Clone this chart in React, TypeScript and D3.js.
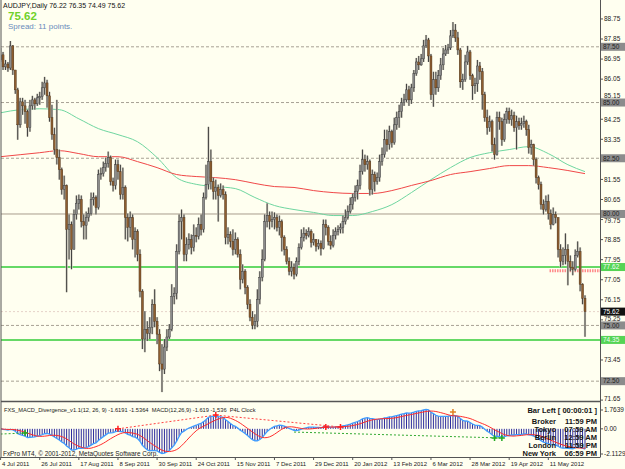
import React from 'react';
import * as d3 from 'd3';

const W = 625;
const H = 469;
const FONT = '"Liberation Sans", Arial, sans-serif';

// AUDJPY daily, 4 Jul 2011 .. 1 Jun 2012 (open of each bar = previous close)
const firstOpen = 86.91;
const closes = [
  87.14, 86.6, 86.73, 86.55, 87.54, 86.46, 85.57, 84.0, 85.03, 84.85,
  84.59, 83.87, 84.85, 85.12, 84.94, 85.21, 85.26, 85.66, 85.88, 85.3,
  84.32, 83.56, 82.89, 82.53, 81.99, 81.1, 81.28, 79.31, 79.53, 78.41,
  79.98, 80.48, 80.65, 79.66, 79.49, 79.84, 80.02, 80.65, 80.74, 80.29,
  81.77, 81.81, 82.08, 82.26, 82.53, 81.45, 81.28, 82.21, 81.9, 80.87,
  81.19, 79.84, 79.4, 79.84, 78.86, 79.22, 78.19, 76.53, 74.39, 74.83,
  74.65, 74.92, 75.95, 75.19, 74.61, 73.27, 73.04, 74.03, 74.48, 74.83,
  76.31, 76.44, 78.32, 79.66, 79.84, 78.19, 78.64, 78.86, 78.5, 79.04,
  79.0, 79.53, 79.31, 80.74, 81.32, 82.35, 81.45, 81.01, 81.19, 80.83,
  81.1, 80.87, 78.95, 79.08, 78.77, 78.41, 78.86, 78.19, 77.07, 77.43,
  76.71, 75.95, 75.37, 75.01, 75.19, 76.17, 77.16, 77.96, 79.66, 79.93,
  79.66, 79.75, 79.84, 79.4, 79.66, 78.95, 78.41, 77.88, 77.43, 77.61,
  77.3, 77.88, 78.5, 78.95, 79.13, 79.04, 79.22, 78.73, 78.86, 78.55,
  78.68, 78.46, 79.53, 79.4, 78.77, 78.59, 79.04, 79.22, 79.31, 79.4,
  79.66, 79.84, 80.11, 80.42, 80.74, 81.01, 81.28, 81.9, 82.44, 82.21,
  82.35, 81.1, 81.77, 81.45, 81.63, 82.35, 82.66, 83.33, 83.11, 83.69,
  83.2, 84.0, 84.32, 84.59, 84.99, 85.12, 85.57, 85.12, 85.66, 86.29,
  86.82, 86.69, 86.96, 87.54, 87.81, 87.09, 85.35, 86.02, 85.66, 86.2,
  86.69, 87.18, 87.36, 87.45, 87.99, 88.25, 87.9, 87.36, 85.93, 86.02,
  86.82, 87.27, 86.2, 85.75, 85.84, 86.64, 86.38, 85.35, 84.32, 83.87,
  84.14, 83.11, 82.66, 84.32, 84.14, 83.33, 84.23, 84.59, 84.23, 84.41,
  83.87, 84.14, 83.96, 84.05, 84.14, 83.78, 82.98, 83.11, 82.44, 81.63,
  81.32, 80.43, 80.2, 80.56, 80.02, 79.53, 79.98, 79.84, 78.41, 77.88,
  78.14, 78.41, 77.88, 77.61, 77.52, 78.14, 78.32, 76.85, 76.22, 75.62,
];
const highs = [
  87.45, 87.27, 86.91, 86.82, 87.76, 87.58, 86.46, 85.66, 85.21, 85.21,
  85.12, 84.68, 85.12, 85.3, 85.21, 85.39, 85.48, 85.93, 86.15, 86.02,
  85.48, 84.9, 83.87, 85.12, 82.89, 82.08, 81.72, 81.32, 79.98, 79.66,
  80.2, 80.83, 80.87, 80.83, 79.98, 80.11, 80.29, 80.96, 80.96, 80.83,
  81.99, 82.08, 82.35, 82.53, 82.8, 82.62, 81.63, 82.44, 82.44, 82.21,
  82.08, 81.28, 80.02, 80.11, 79.98, 79.4, 79.31, 78.41, 76.62, 75.64,
  75.19, 75.37, 76.17, 76.62, 75.37, 74.83, 74.16, 74.39, 74.83, 75.06,
  76.85, 76.71, 78.64, 79.98, 80.2, 79.98, 78.95, 79.13, 79.08, 79.53,
  79.4, 79.84, 79.98, 80.96, 82.21, 83.91, 82.89, 81.63, 81.54, 81.32,
  81.37, 81.28, 81.01, 79.4, 79.22, 79.31, 79.17, 78.95, 78.41, 77.74,
  77.52, 76.8, 76.17, 75.64, 75.5, 76.62, 77.43, 78.41, 79.98, 80.48,
  80.11, 80.11, 80.07, 79.98, 79.93, 79.75, 79.04, 78.55, 78.05, 77.88,
  77.78, 78.05, 78.68, 79.31, 79.4, 79.31, 79.4, 79.31, 79.13, 78.86,
  78.86, 78.81, 79.75, 79.75, 79.49, 79.04, 79.31, 79.4, 79.49, 79.58,
  79.93, 80.2, 80.38, 80.74, 80.92, 81.28, 81.54, 82.21, 82.89, 82.66,
  82.62, 82.44, 81.99, 81.9, 81.86, 82.66, 82.98, 83.78, 83.78, 83.96,
  83.78, 84.32, 84.59, 84.9, 85.21, 85.39, 85.84, 85.75, 85.84, 86.46,
  87.0, 87.09, 87.18, 87.81, 88.03, 87.9, 87.18, 86.38, 86.38, 86.46,
  87.0, 87.45, 87.58, 87.63, 88.25, 88.61, 88.52, 88.17, 87.45, 86.29,
  87.14, 87.54, 87.36, 86.29, 86.11, 86.91, 86.82, 86.55, 85.48, 84.68,
  84.41, 84.23, 83.42, 84.59, 84.59, 84.32, 84.5, 84.77, 84.77, 84.68,
  84.59, 84.41, 84.32, 84.32, 84.41, 84.23, 84.0, 83.33, 83.15, 82.53,
  81.72, 81.45, 80.65, 80.83, 80.87, 80.2, 80.29, 80.11, 79.84, 78.64,
  78.5, 79.13, 78.64, 78.14, 77.88, 78.41, 78.77, 78.5, 76.89, 76.35,
];
const lows = [
  86.82, 86.46, 86.46, 86.38, 86.46, 86.24, 85.39, 83.33, 83.87, 84.45,
  84.05, 83.47, 83.69, 84.68, 84.68, 84.85, 84.9, 85.12, 85.35, 84.77,
  84.14, 83.33, 82.66, 82.22, 81.54, 80.87, 80.65, 76.49, 77.96, 77.52,
  78.41, 79.75, 80.2, 79.4, 78.86, 78.86, 79.66, 79.93, 80.38, 79.98,
  80.2, 81.54, 81.68, 81.9, 82.08, 81.28, 81.01, 81.1, 81.54, 80.65,
  80.65, 78.86, 78.77, 78.95, 78.41, 78.05, 77.88, 76.26, 73.94, 73.8,
  74.3, 74.39, 74.61, 74.92, 74.16, 72.95, 72.01, 72.82, 73.85, 74.39,
  74.74, 75.95, 76.17, 78.19, 78.86, 77.88, 77.88, 78.41, 78.19, 78.32,
  78.73, 78.86, 79.04, 79.17, 80.65, 81.1, 81.1, 80.65, 80.65, 79.66,
  80.74, 80.65, 78.64, 78.64, 78.5, 78.14, 78.19, 78.05, 76.62, 76.89,
  76.4, 75.73, 75.19, 74.83, 74.83, 74.92, 75.95, 76.98, 77.88, 79.4,
  79.31, 79.4, 79.31, 79.22, 79.04, 78.32, 78.14, 77.74, 77.25, 77.2,
  77.07, 77.2, 77.7, 78.41, 78.77, 78.86, 78.95, 78.5, 78.59, 78.32,
  78.41, 78.14, 78.41, 79.04, 78.59, 78.41, 78.5, 78.86, 79.04, 79.13,
  79.13, 79.53, 79.75, 80.02, 80.2, 80.56, 80.65, 81.1, 81.77, 81.9,
  81.99, 80.83, 80.87, 81.01, 81.32, 81.45, 82.17, 82.53, 82.8, 82.89,
  82.98, 83.11, 83.78, 83.87, 84.32, 84.85, 85.03, 84.85, 84.94, 85.48,
  86.2, 86.46, 86.65, 86.82, 87.45, 86.82, 85.12, 84.81, 85.35, 85.48,
  86.02, 86.46, 87.09, 87.18, 87.36, 87.9, 87.72, 87.14, 85.66, 85.57,
  85.93, 86.69, 86.02, 85.12, 85.39, 85.48, 86.02, 84.68, 84.14, 83.56,
  83.69, 82.8, 82.44, 82.62, 83.78, 83.06, 83.24, 84.05, 84.05, 83.96,
  83.69, 82.89, 83.78, 83.78, 83.87, 83.51, 82.71, 82.66, 82.17, 81.37,
  81.1, 80.2, 79.98, 80.11, 79.75, 79.31, 79.49, 79.58, 78.05, 77.61,
  77.7, 77.74, 76.8, 77.43, 77.25, 77.43, 78.05, 76.53, 75.95, 74.49,
];

const dateBars = [0, 16, 32, 48, 64, 80, 96, 112, 128, 144, 160, 176, 192, 208, 224];
const dateLabels = [
  '4 Jul 2011', '26 Jul 2011', '17 Aug 2011', '8 Sep 2011', '30 Sep 2011',
  '24 Oct 2011', '15 Nov 2011', '7 Dec 2011', '29 Dec 2011', '20 Jan 2012',
  '13 Feb 2012', '6 Mar 2012', '28 Mar 2012', '19 Apr 2012', '11 May 2012',
];

const priceTicks = [
  88.75, 87.85, 86.95, 86.05, 85.15, 84.25, 83.35, 82.45, 81.55, 80.65,
  79.75, 78.85, 77.95, 77.05, 76.15, 75.25, 74.35, 73.45, 72.55, 71.65,
];

// moving averages every 8 bars
const maBars = [
  0, 8, 16, 24, 32, 40, 48, 56, 64, 72, 80, 88, 96, 104, 112, 120,
  128, 136, 144, 152, 160, 168, 176, 184, 192, 200, 208, 216, 224, 232, 239,
];
const maGreen = [
  84.54, 84.68, 84.72, 84.68, 84.27, 83.83, 83.56, 83.24, 82.53, 81.63,
  81.33, 81.23, 81.14, 80.74, 80.38, 80.2, 80.07, 79.93, 79.93, 80.11,
  80.42, 80.96, 81.54, 82.08, 82.53, 82.75, 82.89, 83.02, 82.71, 82.21, 81.9,
];
const maRed = [
  82.57, 82.66, 82.75, 82.84, 82.71, 82.57, 82.57, 82.35, 82.08, 81.77,
  81.68, 81.63, 81.54, 81.37, 81.23, 81.19, 81.05, 80.96, 80.92, 80.92,
  81.05, 81.28, 81.5, 81.77, 81.9, 82.04, 82.17, 82.17, 82.08, 81.95, 81.81,
];

const dottedLevels = [87.5, 85.0, 82.5, 75.0, 72.5];
const roundLevel = 80.0;
const greenLevels = [77.62, 74.35];
const bidPrice = 75.62;
const redZone = { price: 77.45, fromBar: 224.5 };

const macdTicks = [1.7639, 0, -2.1129];
const plusMarks = [
  { bar: 10, v: -0.34, c: '#22aa22' },
  { bar: 48, v: 0.0, c: '#ff2020' },
  { bar: 88, v: 1.11, c: '#ff2020' },
  { bar: 133, v: 0.15, c: '#ff2020' },
  { bar: 139, v: 0.15, c: '#ff2020' },
  { bar: 185, v: 1.36, c: '#e08020' },
  { bar: 202, v: -0.74, c: '#22aa22' },
  { bar: 205, v: -0.74, c: '#22aa22' },
];
const divLines = [
  { from: [0, -0.42], to: [10, -0.34], c: '#33aa33' },
  { from: [48, 0.0], to: [88, 1.11], c: '#ff4040' },
  { from: [88, 1.11], to: [139, 0.15], c: '#ff4040' },
  { from: [120, -0.26], to: [205, -0.74], c: '#33aa33' },
];

const clockNames = ['Broker', 'Tokyo', 'Berlin', 'London', 'New York'];
const clockTimes = ['11:59 PM', '07:59 AM', '12:59 AM', '11:59 PM', '06:59 PM'];

// MACD(12,26,9) as the indicator computes it from the closes
function ema(values: number[], n: number) {
  const k = 2 / (n + 1);
  let e = values[0];
  return values.map((v) => (e = e + k * (v - e)));
}
const e12 = ema(closes, 12);
const e26 = ema(closes, 26);
const macdMain = closes.map((_, i) => e12[i] - e26[i]);
const macdSignal = macdMain.map((_, i) => d3.mean(macdMain.slice(Math.max(0, i - 8), i + 1)) as number);

const RIGHT = 600.5;
const MAIN_BOTTOM = 401;
const MACD_TOP = 402;
const MACD_BOTTOM = 457;

export default function App() {
  const x = d3.scaleLinear().domain([0, closes.length - 1]).range([0.6, 585]);
  const y = d3.scaleLinear().domain([71.61, 89.6]).range([MAIN_BOTTOM, 0]);
  const ym = d3.scaleLinear().domain([-2.1129, 1.7639]).range([455, 407]);

  const opens = closes.map((_, i) => (i === 0 ? firstOpen : closes[i - 1]));
  const maLine = d3
    .line<number>()
    .x((_, i) => x(maBars[i]))
    .y((d) => y(d))
    .curve(d3.curveMonotoneX);
  const macdLine = d3
    .line<number>()
    .x((_, i) => x(i))
    .y((d) => ym(d));

  const last = closes.length - 1;
  const header = `AUDJPY,Daily  ${opens[last].toFixed(2)} ${highs[last].toFixed(2)} ${lows[last].toFixed(2)} ${closes[last].toFixed(2)}`;

  // price levels that get a boxed label on the axis
  const boxed = [...dottedLevels, roundLevel, ...greenLevels, bidPrice];
  const boxYs = boxed.map((p) => y(p));

  const tickLabelY = (p: number) => {
    let base = Math.min(y(p), 399) + 2.3;
    for (const by of boxYs) {
      const top = base - 4.8;
      if (top < by + 4 && base > by - 4) {
        base = y(p) < by ? by - 4.3 : by + 9;
      }
    }
    return base;
  };
  const hiddenByBox = (p: number) => boxYs.some((by) => Math.abs(by - y(p)) < 2.5);

  const boxLabel = (p: number, fill: string, color: string, key: string) => (
    <g key={key}>
      <rect x={601} y={y(p) - 4} width={24} height={8} fill={fill} />
      <text x={603} y={y(p) + 2.3} fontSize={6.5} fill={color}>
        {p.toFixed(2)}
      </text>
    </g>
  );

  return (
    <svg
      width={W}
      height={H}
      style={{ position: 'absolute', left: 0, top: 0, fontFamily: FONT }}
    >
      <defs>
        <clipPath id="mainClip">
          <rect x={1} y={0} width={RIGHT - 1} height={MAIN_BOTTOM} />
        </clipPath>
        <clipPath id="macdClip">
          <rect x={1} y={MACD_TOP} width={RIGHT - 1} height={MACD_BOTTOM - MACD_TOP} />
        </clipPath>
      </defs>
      <rect width={W} height={H} fill="#fffff0" />

      {/* main panel */}
      <g clipPath="url(#mainClip)">
        {dottedLevels.map((p) => (
          <line key={p} x1={1} x2={RIGHT} y1={y(p)} y2={y(p)} stroke="#a8a294" strokeDasharray="3 2" />
        ))}
        <line x1={1} x2={RIGHT} y1={y(roundLevel)} y2={y(roundLevel)} stroke="#a89c8c" />
        <line x1={1} x2={RIGHT} y1={y(bidPrice)} y2={y(bidPrice)} stroke="#e6d2c8" strokeDasharray="2 2" />
        {greenLevels.map((p) => (
          <line key={p} x1={1} x2={RIGHT} y1={y(p)} y2={y(p)} stroke="#66d966" strokeWidth={2} />
        ))}
        <line
          x1={x(redZone.fromBar)}
          x2={RIGHT}
          y1={y(redZone.price)}
          y2={y(redZone.price)}
          stroke="#ff8a8a"
          strokeWidth={3}
          strokeDasharray="1.5 1"
        />
        <path d={maLine(maGreen) || ''} fill="none" stroke="#6fd6a0" strokeWidth={1} />
        <path d={maLine(maRed) || ''} fill="none" stroke="#f04848" strokeWidth={1} />

        {closes.map((c, i) => {
          const o = opens[i];
          const cx = x(i);
          const hi = Math.max(highs[i], o, c);
          const lo = Math.min(lows[i], o, c);
          const top = y(Math.max(o, c));
          const bot = y(Math.min(o, c));
          const bull = c >= o;
          return (
            <g key={i}>
              <line x1={cx} x2={cx} y1={y(hi)} y2={y(lo)} stroke="#cfccbe" strokeWidth={2.2} />
              <line x1={cx} x2={cx} y1={y(hi)} y2={y(lo)} stroke="#333" strokeWidth={0.9} />
              <rect
                x={cx - 1}
                y={top}
                width={2}
                height={Math.max(1, bot - top)}
                fill={bull ? '#8c8c8c' : '#8e5e30'}
                stroke={bull ? '#333' : '#4a3018'}
                strokeWidth={0.4}
              />
            </g>
          );
        })}
      </g>

      <text x={3} y={7.5} fontSize={7} fill="#111">
        {header}
      </text>
      <text x={8} y={20} fontSize={11.5} fontWeight="bold" fill="#6fd12a">
        {closes[last].toFixed(2)}
      </text>
      <text x={8} y={28.5} fontSize={8} fill="#6a8cbc">
        Spread: 11 points.
      </text>

      {/* MACD panel */}
      <g clipPath="url(#macdClip)">
        {macdMain.map((v, i) => (
          <line key={i} x1={x(i)} x2={x(i)} y1={ym(0)} y2={ym(v)} stroke="#2e2e9e" strokeWidth={1} />
        ))}
        <path d={macdLine(macdMain) || ''} fill="none" stroke="#3f9cff" strokeWidth={1.3} />
        <path d={macdLine(macdSignal) || ''} fill="none" stroke="#ff2c2c" strokeWidth={1} />
        {divLines.map((l, i) => (
          <line
            key={i}
            x1={x(l.from[0])}
            y1={ym(l.from[1])}
            x2={x(l.to[0])}
            y2={ym(l.to[1])}
            stroke={l.c}
            strokeDasharray="2 2"
          />
        ))}
        {plusMarks.map((m, i) => (
          <g key={i} stroke={m.c} strokeWidth={1.5}>
            <line x1={x(m.bar) - 3} x2={x(m.bar) + 3} y1={ym(m.v)} y2={ym(m.v)} />
            <line x1={x(m.bar)} x2={x(m.bar)} y1={ym(m.v) - 3} y2={ym(m.v) + 3} />
          </g>
        ))}
      </g>
      <text x={4} y={412} fontSize={5.7} fill="#1a1a1a">
        FXS_MACD_Divergence_v1.1(12, 26, 9) -1.6191 -1.5364{'\u00a0\u00a0'}MACD(12,26,9) -1.619 -1.536{'\u00a0\u00a0'}P4L Clock
      </text>
      <text x={3} y={456} fontSize={6.4} fill="#1a1a1a">
        FxPro MT4, © 2001-2012, MetaQuotes Software Corp.
      </text>
      <g fontSize={7.5} fontWeight="bold" fill="#151515">
        <text x={597} y={413} textAnchor="end">
          Bar Left [ 00:00:01 ]
        </text>
        {clockNames.map((n, i) => (
          <g key={n}>
            <text x={556} y={423.5 + i * 8} textAnchor="end">
              {n}
            </text>
            <text x={597} y={423.5 + i * 8} textAnchor="end">
              {clockTimes[i]}
            </text>
          </g>
        ))}
      </g>

      {/* frame */}
      <line x1={1} x2={1} y1={0} y2={MACD_BOTTOM} stroke="#555" />
      <line x1={RIGHT} x2={RIGHT} y1={0} y2={MACD_BOTTOM} stroke="#555" />
      <line x1={1} x2={RIGHT} y1={MAIN_BOTTOM + 0.5} y2={MAIN_BOTTOM + 0.5} stroke="#555" strokeWidth={1.5} />
      <line x1={1} x2={RIGHT} y1={MACD_BOTTOM + 0.5} y2={MACD_BOTTOM + 0.5} stroke="#555" />

      {/* price axis */}
      {priceTicks.map((p) => (
        <g key={p}>
          <line x1={RIGHT} x2={603} y1={y(p)} y2={y(p)} stroke="#555" />
          {!hiddenByBox(p) && (
            <text x={604} y={tickLabelY(p)} fontSize={6.5} fill="#222">
              {p.toFixed(2)}
            </text>
          )}
        </g>
      ))}
      {dottedLevels.map((p) => boxLabel(p, '#8c8c8c', '#1e1e1e', 'd' + p))}
      {boxLabel(roundLevel, '#8c8c8c', '#1e1e1e', 'r')}
      {greenLevels.map((p) => boxLabel(p, '#55d455', '#f4fff4', 'g' + p))}
      {boxLabel(bidPrice, '#111', '#fff', 'b')}

      {/* macd axis */}
      {macdTicks.map((v) => {
        const yy = Math.max(410, Math.min(454, ym(v)));
        return (
          <g key={v}>
            <line x1={RIGHT} x2={603} y1={yy} y2={yy} stroke="#555" />
            <text x={604} y={yy + 2.3} fontSize={6.5} fill="#222">
              {v === 0 ? '0.00' : v.toFixed(4)}
            </text>
          </g>
        );
      })}

      {/* date axis */}
      {dateBars.map((b, i) => (
        <g key={b}>
          <line x1={x(b)} x2={x(b)} y1={MACD_BOTTOM} y2={MACD_BOTTOM + 3} stroke="#555" />
          <text x={x(b) + 1.5} y={466} fontSize={6} fill="#222">
            {dateLabels[i]}
          </text>
        </g>
      ))}
    </svg>
  );
}
